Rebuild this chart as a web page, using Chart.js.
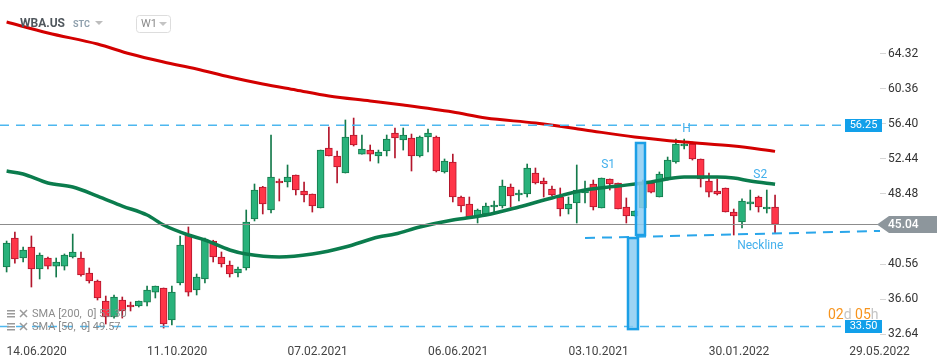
<!DOCTYPE html>
<html lang="en">
<head>
<meta charset="UTF-8">
<title>WBA.US W1</title>
<script src="https://cdn.jsdelivr.net/npm/chart.js@4"></script>
<style>
  html, body { margin: 0; padding: 0; background: #fff; }
  canvas { display: block; }
</style>
</head>
<body>
<canvas id="chart" width="950" height="360"></canvas>
<script>
// weekly candles, week 0 = 14.06.2020, first candle 4 weeks earlier
const firstWeek = -4;
const openP  = [40.22,43.50,41.24,42.48,40.00,41.24,40.33,40.33,41.35,41.24,39.54,38.64,36.38,34.57,36.49,35.92,35.81,36.26,37.39,37.85,
                34.23,38.41,43.84,37.62,38.87,43.16,41.35,40.45,39.54,40.11,45.65,49.27,46.67,49.95,49.84,50.63,48.82,48.48,46.90,53.68,
                52.78,50.85,55.15,52.99,53.45,52.78,53.34,55.38,54.59,54.81,52.78,54.93,54.93,50.97,52.10,48.14,47.35,45.88,46.22,47.01,
                47.12,49.27,48.37,48.48,50.85,49.95,49.04,48.14,46.78,47.46,48.59,49.61,46.90,50.18,49.72,47.01,45.99,46.90,49.72,48.14,
                50.29,52.10,53.91,54.13,52.44,49.95,48.82,49.16,46.44,45.31,47.35,48.14,46.78,47.01];
const highP  = [43.16,44.18,42.48,43.73,41.81,41.35,41.24,41.70,43.95,41.92,40.11,38.75,36.94,37.06,36.83,36.26,36.38,38.07,38.07,37.85,
                38.07,43.73,44.75,39.43,43.50,43.25,41.92,40.90,40.22,46.67,49.61,49.35,55.15,50.18,51.76,50.63,49.84,48.48,53.45,56.06,
                53.34,56.85,57.07,55.15,54.02,53.45,55.15,55.94,55.94,55.26,55.04,55.83,55.04,52.44,52.99,48.25,48.14,46.78,47.46,47.69,
                50.06,49.61,48.93,51.87,51.42,50.29,49.38,49.16,48.14,51.76,49.95,50.06,50.29,50.18,49.72,48.03,46.56,50.06,49.84,50.97,
                52.66,54.70,54.70,54.36,52.44,50.85,50.18,49.16,46.78,47.92,48.93,48.25,48.93,48.37];
const lowP   = [39.66,40.67,40.79,37.96,38.87,40.00,39.09,39.88,41.24,39.20,38.41,36.49,33.78,34.45,34.45,35.25,35.70,35.81,36.72,33.32,
                33.66,38.19,36.94,37.06,38.41,40.79,40.22,39.09,39.09,39.88,45.43,46.22,46.33,47.69,49.27,48.37,47.58,46.44,46.90,52.78,
                49.72,50.85,53.91,52.99,52.21,51.98,52.78,52.55,53.45,51.08,52.66,53.23,50.97,50.85,47.58,46.44,45.80,45.20,46.22,46.33,
                46.90,47.01,47.69,48.14,49.61,48.14,48.25,45.99,46.22,45.20,47.46,46.67,46.90,48.93,46.78,45.20,45.99,46.90,48.59,48.14,
                50.06,51.98,53.57,52.32,49.27,48.14,48.37,46.44,43.84,44.63,46.67,46.44,46.33,44.07];
const closeP = [42.94,41.13,42.15,40.00,41.58,40.33,40.79,41.58,41.92,39.32,38.64,36.72,34.57,36.83,35.25,35.70,36.38,37.62,38.07,33.78,
                37.39,42.71,37.39,39.09,43.28,41.35,40.56,39.43,40.00,45.31,48.93,47.35,50.40,49.72,50.40,48.93,48.37,47.12,53.45,52.78,
                51.53,54.93,54.02,53.57,52.99,53.23,54.70,54.81,55.15,52.78,54.93,55.38,51.08,52.21,48.14,47.12,45.88,46.67,47.12,47.24,
                49.38,48.25,48.59,51.42,49.72,49.61,48.37,46.78,47.35,48.93,49.04,47.01,50.29,49.61,46.78,45.99,46.56,49.84,48.70,50.74,
                52.32,54.13,54.13,52.44,50.18,48.70,48.48,46.44,45.99,47.69,47.58,47.01,47.01,45.04];

// moving averages
const sma200Weeks  = [-4, 1, 7, 11, 15, 19, 23, 27, 31, 35, 40, 44, 50, 54, 60, 66, 72, 78, 84, 89];
const sma200Values = [67.93,66.69,65.44,64.31,63.41,62.62,61.71,60.92,60.24,59.56,59.00,58.54,57.75,57.07,56.51,55.72,54.93,54.36,53.91,53.30];
const sma50Weeks   = [-4, -2, 1, 4, 7, 10, 13, 15, 18, 20, 23, 25, 29, 33, 37, 41, 43, 46, 50, 54, 58, 62, 66, 70, 74, 78, 82, 84, 86, 89];
const sma50Values  = [51.08,50.74,49.72,49.27,48.25,47.12,46.10,44.97,43.84,43.28,42.15,41.69,41.35,41.69,42.48,43.62,43.95,44.75,45.54,46.10,
                      47.01,48.03,48.93,49.38,49.84,50.40,50.40,50.29,49.95,49.57];

const xTickWeeks  = [0, 17, 34, 51, 68, 85, 102];
const xTickLabels = ['14.06.2020', '11.10.2020', '07.02.2021', '06.06.2021', '03.10.2021', '30.01.2022', '29.05.2022'];
const yTicks = [32.64, 36.60, 40.56, 48.48, 52.44, 56.40, 60.36, 64.32];

const resistance = 56.25;
const support = 33.50;
const lastPrice = closeP[closeP.length - 1];

// drawn pattern marks (week, price)
const neckline = [[66.0, 43.50], [101.7, 44.30]];
const boxes = [
  { x0: 72.17, x1: 73.26, top: 54.25, bottom: 43.84 },
  { x0: 71.20, x1: 72.41, top: 43.50, bottom: 33.20 }
];
const marks = [
  { text: 'S1', w: 68.8, v: 51.76 },
  { text: 'H', w: 78.3, v: 55.83 },
  { text: 'S2', w: 87.2, v: 50.63 },
  { text: 'Neckline', w: 87.2, v: 42.65 }
];

const weeks = closeP.map((_, i) => firstWeek + i);
const up = i => closeP[i] >= openP[i];

const FONT = 'Roboto, "Open Sans", sans-serif';
Chart.defaults.font.family = FONT;

function roundRect(ctx, x, y, w, h, r) {
  ctx.beginPath();
  ctx.moveTo(x + r, y);
  ctx.arcTo(x + w, y, x + w, y + h, r);
  ctx.arcTo(x + w, y + h, x, y + h, r);
  ctx.arcTo(x, y + h, x, y, r);
  ctx.arcTo(x, y, x + w, y, r);
  ctx.closePath();
}

function tri(ctx, cx, cy, color) {
  ctx.fillStyle = color;
  ctx.beginPath();
  ctx.moveTo(cx - 4, cy - 2);
  ctx.lineTo(cx + 4, cy - 2);
  ctx.lineTo(cx, cy + 2);
  ctx.closePath();
  ctx.fill();
}

const overlay = {
  id: 'overlay',
  afterDatasetsDraw(chart) {
    const { ctx, chartArea: a, scales: { x, y } } = chart;
    ctx.save();
    ctx.beginPath();
    ctx.rect(a.left, a.top, a.right - a.left, a.bottom - a.top);
    ctx.clip();

    // last price line
    ctx.strokeStyle = '#8c8c8c';
    ctx.lineWidth = 1;
    ctx.beginPath();
    ctx.moveTo(a.left, Math.round(y.getPixelForValue(lastPrice)) + 0.5);
    ctx.lineTo(a.right, Math.round(y.getPixelForValue(lastPrice)) + 0.5);
    ctx.stroke();

    // resistance / support
    ctx.strokeStyle = '#4db7ef';
    ctx.lineWidth = 1.5;
    ctx.setLineDash([9, 7]);
    [resistance, support].forEach(v => {
      const py = y.getPixelForValue(v);
      ctx.beginPath();
      ctx.moveTo(a.left, py);
      ctx.lineTo(a.right - 36, py);
      ctx.stroke();
    });

    // neckline
    ctx.strokeStyle = '#2aa6ea';
    ctx.lineWidth = 2;
    ctx.setLineDash([10, 7]);
    ctx.beginPath();
    ctx.moveTo(x.getPixelForValue(neckline[0][0]), y.getPixelForValue(neckline[0][1]));
    ctx.lineTo(x.getPixelForValue(neckline[1][0]), y.getPixelForValue(neckline[1][1]));
    ctx.stroke();
    ctx.setLineDash([]);

    // measuring boxes
    boxes.forEach(b => {
      const x0 = x.getPixelForValue(b.x0), x1 = x.getPixelForValue(b.x1);
      const y0 = y.getPixelForValue(b.top), y1 = y.getPixelForValue(b.bottom);
      ctx.fillStyle = 'rgba(140, 205, 242, 0.85)';
      ctx.fillRect(x0, y0, x1 - x0, y1 - y0);
      ctx.strokeStyle = '#1b9fe6';
      ctx.lineWidth = 2.5;
      ctx.strokeRect(x0, y0, x1 - x0, y1 - y0);
    });

    // pattern labels
    ctx.fillStyle = '#43b0ec';
    ctx.font = '12px ' + FONT;
    ctx.textAlign = 'center';
    ctx.textBaseline = 'middle';
    marks.forEach(m => ctx.fillText(m.text, x.getPixelForValue(m.w), y.getPixelForValue(m.v)));
    ctx.restore();
  },
  afterDraw(chart) {
    const { ctx, chartArea: a, scales: { y } } = chart;
    ctx.save();
    ctx.textBaseline = 'middle';

    // level price boxes
    [resistance, support].forEach(v => {
      const py = Math.round(y.getPixelForValue(v));
      ctx.fillStyle = '#12a0ea';
      ctx.fillRect(a.right - 35, py - 6, 37, 13);
      ctx.fillStyle = '#fff';
      ctx.font = '11px ' + FONT;
      ctx.textAlign = 'center';
      ctx.fillText(v.toFixed(2), a.right - 16.5, py + 0.5);
    });

    // last price tag
    const ly = y.getPixelForValue(lastPrice);
    ctx.fillStyle = '#8d969c';
    ctx.beginPath();
    ctx.moveTo(a.right - 3, ly);
    ctx.lineTo(a.right + 9, ly - 8.5);
    ctx.lineTo(a.right + 57, ly - 8.5);
    ctx.lineTo(a.right + 57, ly + 8.5);
    ctx.lineTo(a.right + 9, ly + 8.5);
    ctx.closePath();
    ctx.fill();
    ctx.fillStyle = '#fff';
    ctx.font = '500 12px ' + FONT;
    ctx.textAlign = 'left';
    ctx.fillText(lastPrice.toFixed(2), a.right + 8, ly + 0.5);

    // header
    ctx.fillStyle = '#50575d';
    ctx.font = 'bold 12px ' + FONT;
    ctx.fillText('WBA.US', 20, 24);
    ctx.fillStyle = '#8fa0ad';
    ctx.font = 'bold 9px ' + FONT;
    ctx.fillText('STC', 73, 25);
    tri(ctx, 99, 23, '#bdbdbd');
    ctx.strokeStyle = '#dddddd';
    ctx.lineWidth = 1;
    roundRect(ctx, 136.5, 15.5, 34, 17, 3);
    ctx.stroke();
    ctx.fillStyle = '#8a8a8a';
    ctx.font = '11px ' + FONT;
    ctx.fillText('W1', 141, 24.5);
    tri(ctx, 163, 24, '#c4c4c4');

    // indicator legend
    const legend = [['SMA [200,  0] 53.30', 314], ['SMA [50,  0] 49.57', 327]];
    legend.forEach(([t, ly2]) => {
      ctx.fillStyle = '#9a9a9a';
      ctx.fillRect(7, ly2 - 4, 8, 1.5);
      ctx.fillRect(7, ly2 - 1, 8, 1.5);
      ctx.fillRect(7, ly2 + 2, 8, 1.5);
      ctx.strokeStyle = '#9a9a9a';
      ctx.lineWidth = 1.5;
      ctx.beginPath();
      ctx.moveTo(20, ly2 - 4); ctx.lineTo(27, ly2 + 3);
      ctx.moveTo(27, ly2 - 4); ctx.lineTo(20, ly2 + 3);
      ctx.stroke();
      ctx.font = '11px ' + FONT;
      ctx.fillStyle = '#8c8c8c';
      ctx.fillText(t, 32, ly2);
    });

    // countdown
    ctx.font = '14px ' + FONT;
    let cx = 828;
    [['02', '#f7941d'], ['d ', '#c4c4c4'], ['05', '#f7941d'], ['h', '#c4c4c4']].forEach(([t, c]) => {
      ctx.fillStyle = c;
      ctx.fillText(t, cx, 315);
      cx += ctx.measureText(t).width;
    });
    ctx.restore();
  }
};

new Chart(document.getElementById('chart'), {
  type: 'bar',
  data: {
    datasets: [
      {
        type: 'line',
        label: 'SMA 200',
        data: sma200Weeks.map((w, i) => ({ x: w, y: sma200Values[i] })),
        borderColor: '#d30000',
        borderWidth: 3,
        pointRadius: 0,
        cubicInterpolationMode: 'monotone',
        order: 0
      },
      {
        type: 'line',
        label: 'SMA 50',
        data: sma50Weeks.map((w, i) => ({ x: w, y: sma50Values[i] })),
        borderColor: '#0b7c4d',
        borderWidth: 3.5,
        pointRadius: 0,
        cubicInterpolationMode: 'monotone',
        order: 0
      },
      {
        label: 'body',
        data: weeks.map((w, i) => ({ x: w, y: [openP[i], closeP[i]] })),
        backgroundColor: c => up(c.dataIndex) ? '#29b27b' : '#ff3548',
        borderColor: c => up(c.dataIndex) ? '#147a4b' : '#b3162c',
        borderWidth: 1,
        borderSkipped: false,
        barThickness: 7,
        grouped: false,
        order: 1
      },
      {
        label: 'wick',
        data: weeks.map((w, i) => ({ x: w, y: [lowP[i], highP[i]] })),
        backgroundColor: c => up(c.dataIndex) ? '#147a4b' : '#b3162c',
        barThickness: 1,
        grouped: false,
        order: 2
      }
    ]
  },
  options: {
    responsive: false,
    animation: false,
    layout: { padding: 0 },
    plugins: { legend: { display: false }, tooltip: { enabled: false } },
    scales: {
      x: {
        type: 'linear',
        min: -4.8,
        max: 101.7,
        offset: false,
        grid: { display: false, offset: false },
        border: { display: false },
        afterBuildTicks: s => { s.ticks = xTickWeeks.map(v => ({ value: v })); },
        afterFit: s => { s.height = 24; s.paddingLeft = 0; s.paddingRight = 0; },
        ticks: {
          autoSkip: false,
          maxRotation: 0,
          padding: 1,
          labelOffset: -3,
          color: '#444',
          font: { size: 12 },
          callback: v => xTickLabels[xTickWeeks.indexOf(v)]
        }
      },
      y: {
        position: 'right',
        min: 32.42,
        max: 70.42,
        grid: { drawOnChartArea: false, tickLength: 6, color: '#d6d6d6' },
        border: { display: false },
        afterBuildTicks: s => { s.ticks = yTicks.map(v => ({ value: v })); },
        afterFit: s => { s.width = 70; s.paddingTop = 0; s.paddingBottom = 0; },
        ticks: {
          padding: 2,
          color: '#333',
          font: { size: 12 },
          callback: v => v.toFixed(2)
        }
      }
    }
  },
  plugins: [overlay]
});
</script>
</body>
</html>
